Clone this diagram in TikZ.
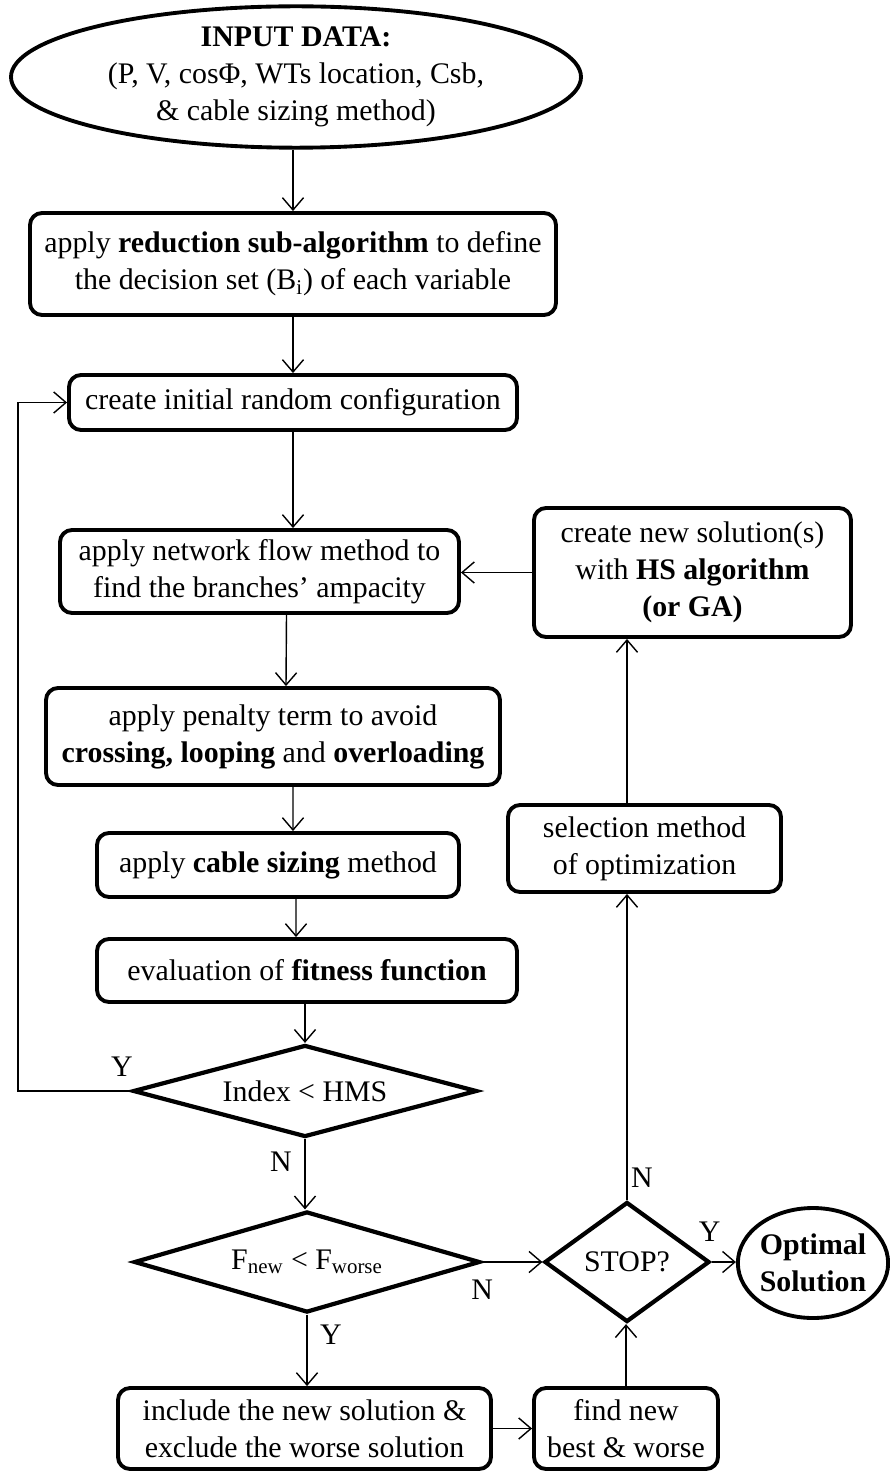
\documentclass[tikz,border=0pt]{standalone}
\usepackage{fontspec}
\setmainfont{Liberation Serif}
\usetikzlibrary{shapes.geometric, arrows.meta}
\tikzstyle{process} = [rectangle, rounded corners=0.24cm, draw=black, line width=2.2pt, align=center, inner sep=0pt]
\tikzstyle{decision} = [diamond, draw=black, line width=2.4pt, align=center, inner sep=0pt]
\tikzstyle{startstop} = [ellipse, draw=black, line width=2.2pt, align=center, inner sep=0pt]
\tikzstyle{arrow} = [line width=0.8pt,-{Straight Barb[length=7pt,width=12pt]}]
\tikzstyle{lbl} = [inner sep=0pt]

\begin{document}
\begin{tikzpicture}[node distance=3cm, font=\fontsize{17}{21}\selectfont]
        \useasboundingbox (-5.92,1.54) rectangle (11.86,-27.88);
        \node (input) [startstop, minimum width=11.4cm, minimum height=2.8cm] {\textbf{INPUT DATA:}\\(P, V, cosΦ, WTs location, Csb,\\\& cable sizing method)};
        \node (reduce) [process, below of=input, yshift=-0.74cm, xshift=-0.06cm, minimum width=10.52cm, minimum height=2.04cm] {apply \textbf{reduction sub-algorithm} to define\\the decision set (B\textsubscript{i}) of each variable};
        \node (init) [process, below of=reduce, yshift=0.23cm, minimum width=8.96cm, minimum height=1.1cm] {create initial random configuration};
        \node (flow) [process, below of=init, yshift=-0.38cm, xshift=-0.67cm, minimum width=7.98cm, minimum height=1.66cm] {apply network flow method to\\find the branches’ ampacity};
        \node (hs) [process, right of=flow, xshift=5.66cm, yshift=-0.02cm, minimum width=6.34cm, minimum height=2.58cm] {create new solution(s)\\with \textbf{HS algorithm}\\\textbf{(or GA)}};
        \node (penalty) [process, below of=flow, yshift=-0.3cm, xshift=0.27cm, minimum width=9.08cm, minimum height=1.94cm] {apply penalty term to avoid\\\textbf{crossing, looping} and \textbf{overloading}};
        \node (cable) [process, below of=penalty, yshift=0.43cm, xshift=0.1cm, minimum width=7.24cm, minimum height=1.28cm] {apply \textbf{cable sizing} method};
        \node (fitness) [process, below of=cable, yshift=0.89cm, xshift=0.58cm, minimum width=8.4cm, minimum height=1.26cm] {evaluation of \textbf{fitness function}};
        \node (index) [decision, below of=fitness, yshift=0.59cm, xshift=-0.04cm, aspect=3.74, minimum width=6.88cm, minimum height=1.84cm] {Index < HMS};
        \node (fcmp) [decision, below of=index, yshift=-0.42cm, xshift=0.04cm, aspect=3.43, minimum width=6.92cm, minimum height=2.02cm] {F\textsubscript{new} < F\textsubscript{worse}};
        \node (include) [process, below of=fcmp, yshift=-0.33cm, xshift=-0.05cm, minimum width=7.46cm, minimum height=1.62cm] {include the new solution \&\\exclude the worse solution};
        \node (find) [process, right of=include, xshift=3.43cm, minimum width=3.68cm, minimum height=1.62cm] {find new\\best \& worse};
        \node (stop) [decision, right of=fcmp, xshift=3.4cm, aspect=1.375, minimum width=3.3cm, minimum height=2.4cm] {STOP?};
        \node (optimal) [startstop, right of=stop, xshift=0.72cm, yshift=-0.02cm, minimum width=2.9cm, minimum height=2.2cm] {\textbf{Optimal}\\\textbf{Solution}};
        \node (select) [process, above of=stop, yshift=5.27cm, xshift=0.35cm, minimum width=5.46cm, minimum height=1.74cm] {selection method\\of optimization};
        \coordinate (back) at (-5.56,0);

        \draw [arrow] (reduce.north |- input.south) -- (reduce.north);
        \draw [arrow] (reduce.south) -- (init.north);
        \draw [arrow] (init.south) -- (init.south |- flow.north);
        \draw [arrow] ([xshift=0.54cm]flow.south) -- ([xshift=0.26cm]penalty.north);
        \draw [arrow] ([xshift=0.4cm]penalty.south) -- ([xshift=0.3cm]cable.north);
        \draw [arrow] ([xshift=0.36cm]cable.south) -- ([xshift=-0.22cm]fitness.north);
        \draw [arrow] (index.north |- fitness.south) -- (index.north);
        \draw [arrow] (index.west) node[lbl, xshift=-0.18cm, yshift=0.48cm] {Y} -- (index.west -| back) |- (init.west);
        \draw [arrow] (index.south) node[lbl, xshift=-0.48cm, yshift=-0.46cm] {N} -- (index.south |- fcmp.north);
        \draw [arrow] (fcmp.south) node[lbl, xshift=0.48cm, yshift=-0.4cm] {Y} -- (fcmp.south |- include.north);
        \draw [arrow] (fcmp.east) node[lbl, yshift=-0.56cm] {N} -- (stop.west);
        \draw [arrow] (include.east) -- (find.west);
        \draw [arrow] (find.north) -- (find.north |- stop.south);
        \draw [arrow] (stop.east) node[lbl, xshift=-0.04cm, yshift=0.6cm] {Y} -- (stop.east -| optimal.west);
        \draw [arrow] (stop.north) node[lbl, xshift=0.3cm, yshift=0.44cm] {N} -- (stop.north |- select.south);
        \draw [arrow] (stop.north |- select.north) -- (stop.north |- hs.south);
        \draw [arrow] (hs.west) -- (flow.east |- hs.west);
    \end{tikzpicture}
\end{document}
